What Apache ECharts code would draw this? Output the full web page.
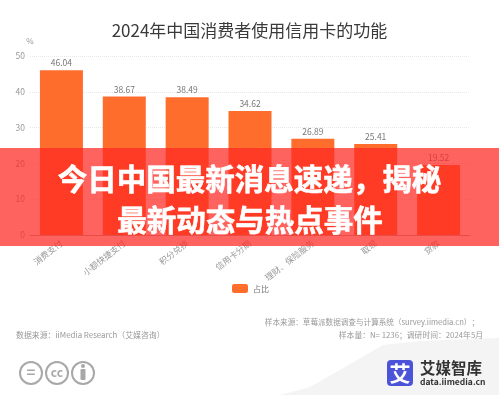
<!DOCTYPE html>
<html><head><meta charset="utf-8">
<style>html,body{margin:0;padding:0;background:#fff}#c{width:499px;height:395px;filter:blur(0.35px)}</style>
<script src="https://cdn.jsdelivr.net/npm/echarts@6/dist/echarts.min.js"></script>
</head><body><div id="c"></div>
<script>
const categories = ['消费支付','小额快捷支付','积分兑换','信用卡分期','理财、保险服务','取现','贷款'];
const shareValues = [46.04,38.67,38.49,34.62,26.89,25.41,19.52];
const seriesName = '占比';
const chartTitle = '2024年中国消费者使用信用卡的功能';
const bannerLines = ['今日中国最新消息速递，揭秘','最新动态与热点事件'];
const FONT = '"Noto Sans CJK SC","Noto Sans",sans-serif';
const chart = echarts.init(document.getElementById('c'),null,{renderer:'canvas'});
const txt=(text,x,y,size,color,align,weight,z)=>({type:'text',z:z||5,style:{text,x,y,fontSize:size,fill:color,align:align||'left',verticalAlign:'middle',fontFamily:FONT,fontWeight:weight||'normal'}});
const ring=(cx,cy)=>({type:'circle',z:5,shape:{cx,cy,r:11},style:{fill:'#fff',stroke:'#a8a8a8',lineWidth:2}});
const banner=(text,x,y)=>({type:'text',z:51,style:{text,x,y,fontSize:29.5,fill:'#fff',stroke:'#fff',lineWidth:0.6,align:'center',verticalAlign:'middle',fontFamily:FONT,fontWeight:'bold',shadowBlur:3,shadowColor:'rgba(130,10,0,0.6)'}});
chart.setOption({
  animation:false,
  backgroundColor:'#fff',
  title:{text:chartTitle,left:'center',top:17,itemGap:0,textStyle:{fontSize:17,fontWeight:'normal',color:'#3a3a3a',fontFamily:FONT}},
  grid:{left:30,right:29,top:56,bottom:160},
  legend:{data:[seriesName],left:227,top:279,itemWidth:16,itemHeight:9,itemGap:4,icon:'roundRect',textStyle:{fontSize:8,color:'#777',fontFamily:FONT}},
  xAxis:{type:'category',data:categories,axisTick:{show:false},
    axisLine:{lineStyle:{color:'#aaa',width:1}},
    axisLabel:{rotate:38,interval:0,fontSize:8.5,color:'#999',margin:7,fontFamily:FONT}},
  yAxis:{type:'value',min:0,max:50,interval:10,name:'%',nameGap:11,
    nameTextStyle:{fontSize:8,color:'#999',align:'center',fontFamily:FONT},
    axisLine:{show:false},axisTick:{show:false},
    splitLine:{lineStyle:{color:'#e8e8e8',type:'dotted',width:1}},
    axisLabel:{fontSize:8.5,color:'#999',margin:5,fontFamily:FONT}},
  series:[{name:seriesName,type:'bar',data:shareValues,barWidth:43,
    itemStyle:{color:'#ff6d2d'},
    label:{show:true,position:'top',distance:3,fontSize:8.5,color:'#777',fontFamily:FONT,formatter:p=>p.value.toFixed(2)}}],
  graphic:[
    {type:'polygon',z:1,shape:{points:[[280,395],[310,387],[345,367],[383,345],[420,341],[499,338],[499,395]]},style:{fill:'#f4f4f4'}},
    txt('样本来源：草莓派数据调查与计算系统（survey.iimedia.cn）；',479,322,7.6,'#999','right'),
    txt('样本量：N= 1236；调研时间：2024年5月',483,335,7.8,'#999','right'),
    txt('数据来源：iiMedia Research（艾媒咨询）',16,335,7.9,'#999','left'),
    ring(31,373),ring(57,373),ring(83,373),
    txt('=',31,372,15,'#a8a8a8','center','bold'),
    txt('cc',57,372,12,'#a8a8a8','center','bold'),
    {type:'circle',z:6,shape:{cx:83,cy:366,r:2},style:{fill:'#a8a8a8'}},
    {type:'rect',z:6,shape:{x:80.5,y:369,width:5,height:11,r:1},style:{fill:'#a8a8a8'}},
    {type:'rect',z:5,shape:{x:387,y:360,width:26,height:26,r:4},style:{fill:'#4b54d8'}},
    txt('艾',400,373,21,'#fff','center','bold',6),
    txt('艾媒智库',420,368,15.5,'#333','left','bold'),
    txt('data.iimedia.cn',420,382,8.5,'#333','left','bold'),
    {type:'rect',z:50,shape:{x:0,y:148,width:499,height:98},style:{fill:'rgba(255,41,36,0.73)'}},
    banner(bannerLines[0],249.5,179),
    banner(bannerLines[1],250,220)
  ]
});
</script></body></html>
